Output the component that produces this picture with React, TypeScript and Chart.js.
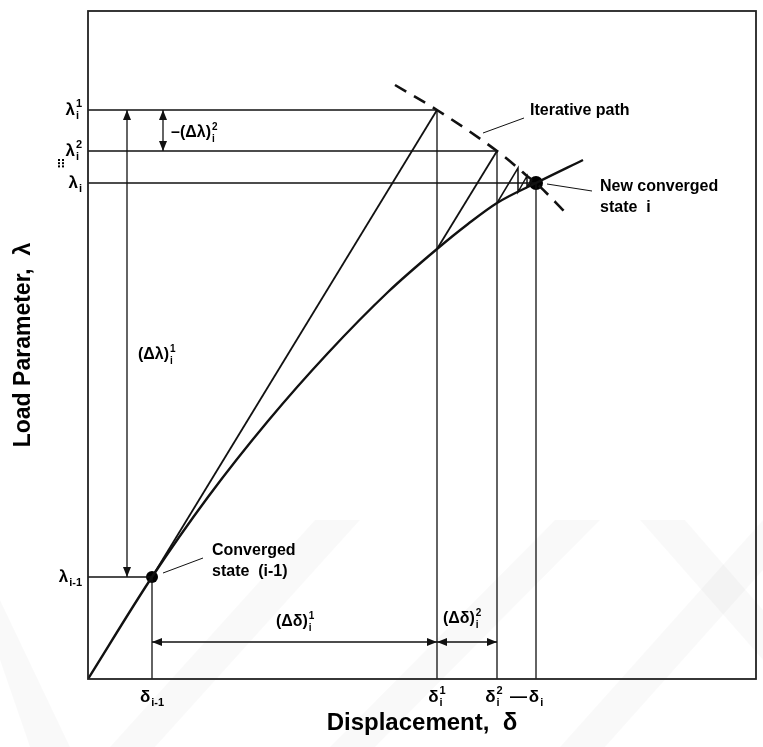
import React, { useEffect, useRef } from "react";
import { Chart, registerables } from "chart.js";

Chart.register(...registerables);

const FONT = "'Liberation Sans', Arial, Helvetica, sans-serif";

// Equilibrium path: load parameter vs displacement
const equilibriumDelta = [0, 64, 120, 180, 240, 300, 349, 380, 409, 448, 495];
const equilibriumLambda = [0, 102, 182, 258, 326, 387, 430, 455, 476, 496, 519];

// Iterative (constraint) path through predictor / corrector tips
const iterDelta = [307, 349, 409, 430, 439, 448, 477];
const iterLambda = [594, 569, 528, 511, 503, 496, 467];

// Characteristic states
const deltaPrev = 64;
const lambdaPrev = 102;
const delta1 = 349;
const lambda1 = 569;
const lambda1Curve = 430;
const delta2 = 409;
const lambda2 = 528;
const deltaI = 448;
const lambdaI = 496;

// Small corrector steps close to the converged state
const stepCurveDelta = [409, 430, 439];
const stepCurveLambda = [476, 487, 492];
const stepTipDelta = [430, 439, 444];
const stepTipLambda = [511, 503, 499];

// Tick labels (base symbol, superscript, subscript)
const lambdaTickValues = [lambda1, lambda2, lambdaI, lambdaPrev];
const lambdaTickLabels = [
  ["λ", "1", "i"],
  ["λ", "2", "i"],
  ["λ", "", "i"],
  ["λ", "", "i-1"],
];
const deltaTickValues = [deltaPrev, delta1, delta2, deltaI];
const deltaTickLabels = [
  ["δ", "", "i-1"],
  ["δ", "1", "i"],
  ["δ", "2", "i"],
  ["δ", "", "i"],
];

const AXIS_MAX = 668;

type Pt = { x: number; y: number };
const pts = (xs: number[], ys: number[]): Pt[] => xs.map((x, i) => ({ x, y: ys[i] }));
const seg = (x1: number, y1: number, x2: number, y2: number): Pt[] => [
  { x: x1, y: y1 },
  { x: x2, y: y2 },
];

function lineSet(data: Pt[], width = 1.3, extra: any = {}) {
  return {
    data,
    showLine: true,
    borderColor: "#111",
    backgroundColor: "#111",
    borderWidth: width,
    pointRadius: 0,
    pointHoverRadius: 0,
    fill: false,
    ...extra,
  };
}

function drawSym(
  ctx: CanvasRenderingContext2D,
  x: number,
  y: number,
  base: string,
  sup: string,
  sub: string,
  align: "left" | "right" | "center",
  size = 17
) {
  const small = Math.round(size * 0.62);
  ctx.save();
  ctx.fillStyle = "#000";
  ctx.textBaseline = "middle";
  ctx.textAlign = "left";
  ctx.font = `bold ${size}px ${FONT}`;
  const bw = ctx.measureText(base).width;
  ctx.font = `bold ${small}px ${FONT}`;
  const sw = Math.max(ctx.measureText(sup).width, ctx.measureText(sub).width);
  const total = bw + (sw ? sw + 1 : 0);
  let sx = x;
  if (align === "right") sx = x - total;
  if (align === "center") sx = x - total / 2;
  ctx.font = `bold ${size}px ${FONT}`;
  ctx.fillText(base, sx, y);
  ctx.font = `bold ${small}px ${FONT}`;
  if (sup) ctx.fillText(sup, sx + bw + 1, y - size * 0.36);
  if (sub) ctx.fillText(sub, sx + bw + 1, y + size * 0.36);
  ctx.restore();
}

function arrowHead(ctx: CanvasRenderingContext2D, tx: number, ty: number, fx: number, fy: number) {
  const ang = Math.atan2(ty - fy, tx - fx);
  const len = 10;
  const hw = 4;
  ctx.beginPath();
  ctx.moveTo(tx, ty);
  ctx.lineTo(tx - len * Math.cos(ang) + hw * Math.sin(ang), ty - len * Math.sin(ang) - hw * Math.cos(ang));
  ctx.lineTo(tx - len * Math.cos(ang) - hw * Math.sin(ang), ty - len * Math.sin(ang) + hw * Math.cos(ang));
  ctx.closePath();
  ctx.fill();
}

// Arrow offsets for the increment dimensions
const bigArrowDelta = 39;
const smallArrowDelta = 75;
const dimArrowLambda = 37;

const arrows: [number, number, number, number][] = [
  [bigArrowDelta, lambdaPrev, bigArrowDelta, lambda1],
  [smallArrowDelta, lambda2, smallArrowDelta, lambda1],
  [deltaPrev, dimArrowLambda, delta1, dimArrowLambda],
  [delta1, dimArrowLambda, delta2, dimArrowLambda],
];

const diagramPlugin = {
  id: "diagram",
  beforeDraw(chart: any) {
    const ctx: CanvasRenderingContext2D = chart.ctx;
    ctx.save();
    ctx.fillStyle = "#fff";
    ctx.fillRect(0, 0, chart.width, chart.height);
    // faint background emblem stripes
    ctx.fillStyle = "rgba(0,0,0,0.022)";
    const bands: number[][] = [
      [0, 660, 0, 600, 70, 747, 30, 747],
      [110, 747, 155, 747, 360, 520, 315, 520],
      [330, 747, 375, 747, 600, 520, 555, 520],
      [560, 747, 605, 747, 763, 570, 763, 520],
      [640, 520, 685, 520, 763, 610, 763, 660],
    ];
    for (const b of bands) {
      ctx.beginPath();
      ctx.moveTo(b[0], b[1]);
      for (let i = 2; i < b.length; i += 2) ctx.lineTo(b[i], b[i + 1]);
      ctx.closePath();
      ctx.fill();
    }
    ctx.restore();
  },
  afterDatasetsDraw(chart: any) {
    const ctx: CanvasRenderingContext2D = chart.ctx;
    const xs = chart.scales.x;
    const ys = chart.scales.y;
    const px = (v: number) => xs.getPixelForValue(v);
    const py = (v: number) => ys.getPixelForValue(v);
    const area = chart.chartArea;

    ctx.save();
    // frame
    ctx.strokeStyle = "#222";
    ctx.lineWidth = 1.8;
    ctx.strokeRect(area.left, area.top, area.right - area.left, area.bottom - area.top);

    // arrow heads
    ctx.fillStyle = "#111";
    for (const [x1, y1, x2, y2] of arrows) {
      arrowHead(ctx, px(x1), py(y1), px(x2), py(y2));
      arrowHead(ctx, px(x2), py(y2), px(x1), py(y1));
    }

    // lambda tick labels
    lambdaTickValues.forEach((v, i) => {
      const [b, sp, sb] = lambdaTickLabels[i];
      drawSym(ctx, area.left - 6, py(v), b, sp, sb, "right", 17);
    });
    // vertical ellipsis under the second lambda label
    ctx.fillStyle = "#000";
    const ex = area.left - 30;
    for (let k = 0; k < 3; k++) {
      ctx.fillRect(ex, py(lambda2) + 8 + k * 3.2, 2, 2);
      ctx.fillRect(ex + 4, py(lambda2) + 8 + k * 3.2, 2, 2);
    }

    // delta tick labels
    const ty = area.bottom + 18;
    drawSym(ctx, px(deltaTickValues[0]), ty, deltaTickLabels[0][0], deltaTickLabels[0][1], deltaTickLabels[0][2], "center");
    drawSym(ctx, px(deltaTickValues[1]), ty, deltaTickLabels[1][0], deltaTickLabels[1][1], deltaTickLabels[1][2], "center");
    drawSym(ctx, px(deltaTickValues[2]) - 3, ty, deltaTickLabels[2][0], deltaTickLabels[2][1], deltaTickLabels[2][2], "center");
    drawSym(ctx, px(deltaTickValues[3]), ty, deltaTickLabels[3][0], deltaTickLabels[3][1], deltaTickLabels[3][2], "center");
    ctx.font = `bold 17px ${FONT}`;
    ctx.textAlign = "center";
    ctx.textBaseline = "middle";
    ctx.fillText("—", (px(delta2) + px(deltaI)) / 2 + 2, ty);

    // increment labels
    drawSym(ctx, px(bigArrowDelta) + 11, py(324), "(Δλ)", "1", "i", "left", 16);
    drawSym(ctx, px(smallArrowDelta) + 8, py(546), "–(Δλ)", "2", "i", "left", 16);
    drawSym(ctx, px(188), py(57), "(Δδ)", "1", "i", "left", 16);
    drawSym(ctx, px(355), py(60), "(Δδ)", "2", "i", "left", 16);

    // annotations
    ctx.fillStyle = "#000";
    ctx.textAlign = "left";
    ctx.textBaseline = "middle";
    ctx.font = `bold 16px ${FONT}`;
    ctx.fillText("Iterative path", px(442), py(568));
    ctx.fillText("New converged", px(512), py(492));
    ctx.fillText("state  i", px(512), py(471));
    ctx.fillText("Converged", px(124), py(128));
    ctx.fillText("state  (i-1)", px(124), py(107));
    ctx.restore();
  },
};

export default function App() {
  const canvasRef = useRef<HTMLCanvasElement | null>(null);

  useEffect(() => {
    if (!canvasRef.current) return;

    const refLines: Pt[][] = [
      seg(0, lambda1, delta1, lambda1),
      seg(0, lambda2, delta2, lambda2),
      seg(0, lambdaI, deltaI, lambdaI),
      seg(0, lambdaPrev, deltaPrev, lambdaPrev),
      seg(deltaPrev, lambdaPrev, deltaPrev, 0),
      seg(delta1, lambda1, delta1, 0),
      seg(delta2, lambda2, delta2, 0),
      seg(deltaI, lambdaI, deltaI, 0),
    ];

    const subSteps: Pt[] = [];
    stepCurveDelta.forEach((d, i) => {
      subSteps.push({ x: d, y: stepCurveLambda[i] });
      subSteps.push({ x: stepTipDelta[i], y: stepTipLambda[i] });
      if (i + 1 < stepCurveDelta.length) {
        subSteps.push({ x: stepTipDelta[i], y: stepCurveLambda[i + 1] });
      }
    });

    const leaders: Pt[][] = [
      seg(395, 546, 436, 561),
      seg(459, 495, 504, 488),
      seg(75, 106, 115, 121),
    ];

    const datasets: any[] = [
      lineSet(pts(equilibriumDelta, equilibriumLambda), 2.4, { cubicInterpolationMode: "monotone" }),
      lineSet(pts(iterDelta, iterLambda), 2.6, { borderDash: [13, 9], cubicInterpolationMode: "monotone" }),
      lineSet(seg(deltaPrev, lambdaPrev, delta1, lambda1), 1.8),
      lineSet(seg(delta1, lambda1Curve, delta2, lambda2), 1.8),
      lineSet(subSteps, 1.5),
      ...refLines.map((l) => lineSet(l, 1.3)),
      ...arrows.map(([x1, y1, x2, y2]) => lineSet(seg(x1, y1, x2, y2), 1.3)),
      ...leaders.map((l) => lineSet(l, 1)),
      {
        data: [
          { x: deltaPrev, y: lambdaPrev },
          { x: deltaI, y: lambdaI },
        ],
        showLine: false,
        pointRadius: [6, 7],
        pointBackgroundColor: "#000",
        pointBorderColor: "#000",
        pointBorderWidth: 0,
      },
    ];

    const chart = new Chart(canvasRef.current, {
      type: "scatter",
      data: { datasets },
      plugins: [diagramPlugin],
      options: {
        responsive: false,
        animation: false,
        events: [],
        layout: { padding: { top: 11, right: 7, left: 0, bottom: 0 } },
        plugins: { legend: { display: false }, tooltip: { enabled: false } },
        scales: {
          x: {
            type: "linear",
            min: 0,
            max: AXIS_MAX,
            grid: { display: false, drawTicks: false },
            border: { display: false },
            ticks: { display: false },
            title: {
              display: true,
              text: "Displacement,  δ",
              color: "#000",
              font: { family: FONT, size: 24, weight: "bold" },
              padding: { top: 0, bottom: 9 },
            },
            afterFit: (s: any) => {
              s.height = 68;
            },
          },
          y: {
            type: "linear",
            min: 0,
            max: AXIS_MAX,
            grid: { display: false, drawTicks: false },
            border: { display: false },
            ticks: { display: false },
            title: {
              display: true,
              text: "Load Parameter,  λ",
              color: "#000",
              font: { family: FONT, size: 23, weight: "bold" },
              padding: { top: 10, bottom: 0 },
            },
            afterFit: (s: any) => {
              s.width = 88;
            },
          },
        },
      },
    });

    return () => chart.destroy();
  }, []);

  return (
    <div style={{ position: "absolute", left: 0, top: 0, width: 763, height: 747 }}>
      <canvas ref={canvasRef} width={763} height={747} />
    </div>
  );
}
